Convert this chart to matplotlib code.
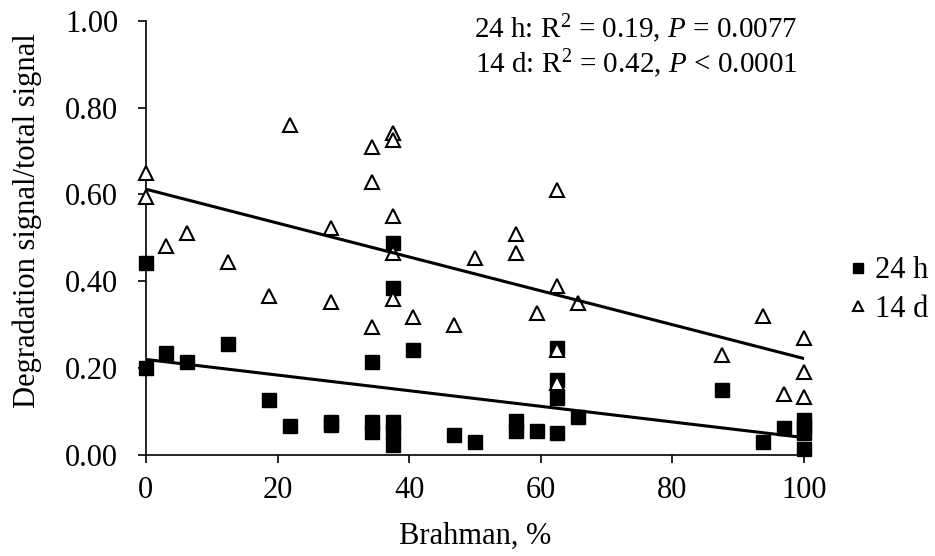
import numpy as np
import matplotlib
matplotlib.use('Agg')
import matplotlib.pyplot as plt

plt.rcParams['font.family'] = ['Liberation Serif', 'DejaVu Serif']
plt.rcParams['mathtext.fontset'] = 'custom'
plt.rcParams['mathtext.rm'] = 'Liberation Serif'
plt.rcParams['mathtext.it'] = 'Liberation Serif:italic'

# 24 h points (squares)
x_24h = [0, 0, 3.125, 6.25, 12.5, 18.75, 21.875, 28.125, 28.125,
         34.375, 34.375, 34.375, 37.5, 37.5, 37.5, 37.5, 37.5,
         40.625, 46.875, 50, 56.25, 56.25, 59.375,
         62.5, 62.5, 62.5, 62.5, 65.625, 87.5, 93.75, 96.875,
         100, 100, 100, 100]
y_24h = [0.443, 0.201, 0.234, 0.215, 0.256, 0.127, 0.067, 0.070, 0.077,
         0.215, 0.077, 0.052, 0.489, 0.384, 0.077, 0.052, 0.023,
         0.242, 0.045, 0.031, 0.079, 0.056, 0.055,
         0.246, 0.173, 0.131, 0.050, 0.088, 0.150, 0.031, 0.061,
         0.081, 0.065, 0.051, 0.013]

# 14 d points (triangles)
x_14d = [0, 0, 3.125, 6.25, 12.5, 18.75, 21.875, 28.125, 28.125,
         34.375, 34.375, 34.375, 37.5, 37.5, 37.5, 37.5, 37.5,
         40.625, 46.875, 50, 56.25, 56.25, 59.375,
         62.5, 62.5, 62.5, 62.5, 65.625, 87.5, 93.75, 96.875,
         100, 100, 100]
y_14d = [0.649, 0.594, 0.481, 0.512, 0.445, 0.365, 0.760, 0.523, 0.353,
         0.708, 0.629, 0.295, 0.741, 0.725, 0.550, 0.464, 0.358,
         0.318, 0.299, 0.453, 0.508, 0.466, 0.328,
         0.609, 0.389, 0.242, 0.166, 0.349, 0.230, 0.320, 0.140,
         0.269, 0.192, 0.133]

# trend lines: (intercept, slope)
fit_24h = (0.220, -0.0018)
fit_14d = (0.612, -0.0039)

stats_text = [r'24 h: R$^2$ = 0.19, $P$ = 0.0077',
              r'14 d: R$^2$ = 0.42, $P$ < 0.0001']

fig = plt.figure(figsize=(9.35, 5.56), dpi=100)
ax = fig.add_axes([0.156, 0.1817, 0.704, 0.7811])

ax.plot(x_24h, y_24h, 's', color='black', markersize=10, clip_on=False,
        zorder=3, label='24 h')
ax.plot(x_14d, y_14d, '^', markerfacecolor='white', markeredgecolor='black',
        markeredgewidth=1.5, markersize=10, clip_on=False, zorder=4, label='14 d')

xx = np.array([0, 100])
ax.plot(xx, fit_24h[0] + fit_24h[1] * xx, color='black', lw=2.2, zorder=5)
ax.plot(xx, fit_14d[0] + fit_14d[1] * xx, color='black', lw=2.2, zorder=5)

ax.set_xlim(0, 100)
ax.set_ylim(0, 1)
ax.set_xticks(np.arange(0, 101, 20))
ax.set_yticks(np.arange(0, 1.01, 0.2))
ax.set_yticklabels(['%.2f' % v for v in np.arange(0, 1.01, 0.2)])
ax.tick_params(labelsize=22, length=6, width=1.2, direction='out')
ax.tick_params(axis='y', pad=14)
ax.tick_params(axis='x', pad=9)
for s in ['top', 'right']:
    ax.spines[s].set_visible(False)
for s in ['left', 'bottom']:
    ax.spines[s].set_linewidth(1.2)

ax.set_xlabel('Brahman, %', fontsize=22, labelpad=12)
ax.set_ylabel('Degradation signal/total signal', fontsize=22)
ax.yaxis.set_label_coords(-0.158, 0.54)

ax.text(0.99, 1.02, stats_text[0] + '\n' + stats_text[1], transform=ax.transAxes,
        ha='right', va='top', fontsize=21, linespacing=1.08)

ax.legend(loc='center left', bbox_to_anchor=(1.0, 0.38), frameon=False,
          fontsize=22, handletextpad=0.15, labelspacing=0.3, markerscale=0.75,
          handlelength=0.8, borderaxespad=0.96)

fig.savefig('out.png', dpi=100)
